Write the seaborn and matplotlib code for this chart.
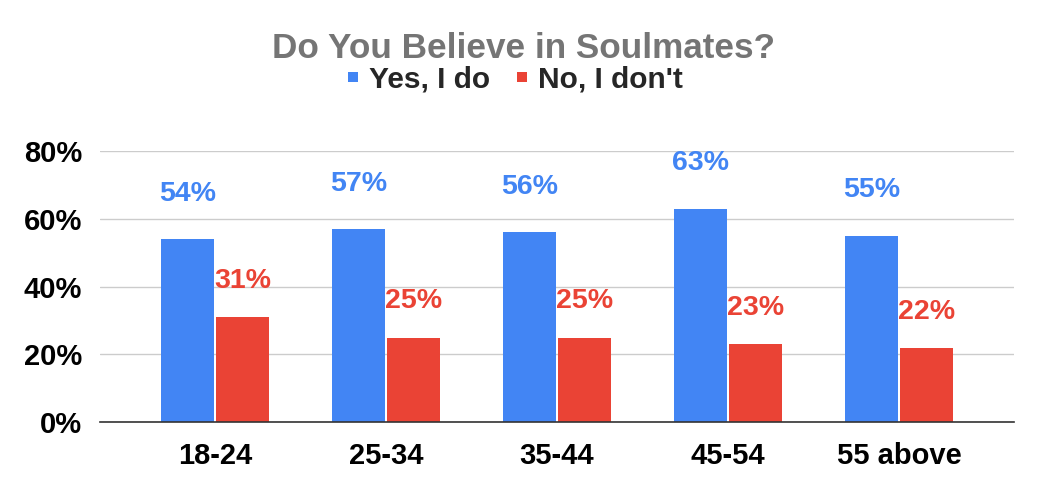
import matplotlib
matplotlib.use("Agg")
import matplotlib.pyplot as plt
import seaborn as sns
import pandas as pd
from matplotlib.ticker import FuncFormatter
from matplotlib.lines import Line2D

categories = ["18-24", "25-34", "35-44", "45-54", "55 above"]
yes_values = [0.54, 0.57, 0.56, 0.63, 0.55]
no_values = [0.31, 0.25, 0.25, 0.23, 0.22]
series_names = ["Yes, I do", "No, I don't"]
colors = ["#4285F4", "#EA4335"]
title = "Do You Believe in Soulmates?"

df = pd.DataFrame({
    "age": categories * 2,
    "value": yes_values + no_values,
    "series": [series_names[0]] * len(categories) + [series_names[1]] * len(categories),
})

sns.set_theme(style="white")
plt.rcParams["font.family"] = ["Liberation Sans", "DejaVu Sans"]
plt.rcParams["font.weight"] = "bold"

fig = plt.figure(figsize=(10.39, 4.97), dpi=100)
ax = fig.add_axes([100 / 1039, (497 - 422.3) / 497, 914 / 1039, (422.3 - 151) / 497])

sns.barplot(data=df, x="age", y="value", hue="series", palette=colors,
            width=0.645, gap=0.05, ax=ax, legend=False, saturation=1,
            edgecolor="none", linewidth=0)

ax.set_ylim(0, 0.8)
ax.set_xlim(-0.673, len(categories) - 1 + 0.673)
ax.set_yticks([0, 0.2, 0.4, 0.6, 0.8])
ax.yaxis.set_major_formatter(FuncFormatter(lambda v, p: f"{v*100:.0f}%"))
ax.set_xlabel("")
ax.set_ylabel("")
ax.grid(axis="y", color="#cccccc", linewidth=1)
ax.set_axisbelow(True)
for s in ["top", "right", "left"]:
    ax.spines[s].set_visible(False)
ax.spines["bottom"].set_color("#333333")
ax.spines["bottom"].set_linewidth(1.2)
ax.tick_params(axis="both", length=0, labelsize=21, colors="#000000")
ax.tick_params(axis="x", pad=14.5)
ax.tick_params(axis="y", pad=13)
for lab in ax.get_xticklabels() + ax.get_yticklabels():
    lab.set_fontweight("bold")

offsets = [27.7, 20.9]
for cont, col, off in zip(ax.containers, colors, offsets):
    for bar in cont:
        h = bar.get_height()
        ax.annotate(f"{h*100:.0f}%", xy=(bar.get_x() + bar.get_width() / 2, h),
                    xytext=(0, off), textcoords="offset points",
                    ha="center", va="baseline", color=col,
                    fontsize=20.5, fontweight="bold")

fig.text(524 / 1039, (497 - 58) / 497, title, ha="center", va="baseline",
         fontsize=25.3, fontweight="bold", color="#757575")

handles = [Line2D([], [], linestyle="none", marker="s", markersize=7.4,
                  markerfacecolor=c, markeredgewidth=0) for c in colors]
fig.legend(handles, series_names, loc="center", bbox_to_anchor=(514 / 1039, (497 - 79) / 497),
           ncol=2, frameon=False, handlelength=0.5, handletextpad=0.3,
           columnspacing=0.8, borderpad=0, borderaxespad=0,
           prop={"weight": "bold", "size": 21.5})

fig.savefig("out.png", dpi=100)
